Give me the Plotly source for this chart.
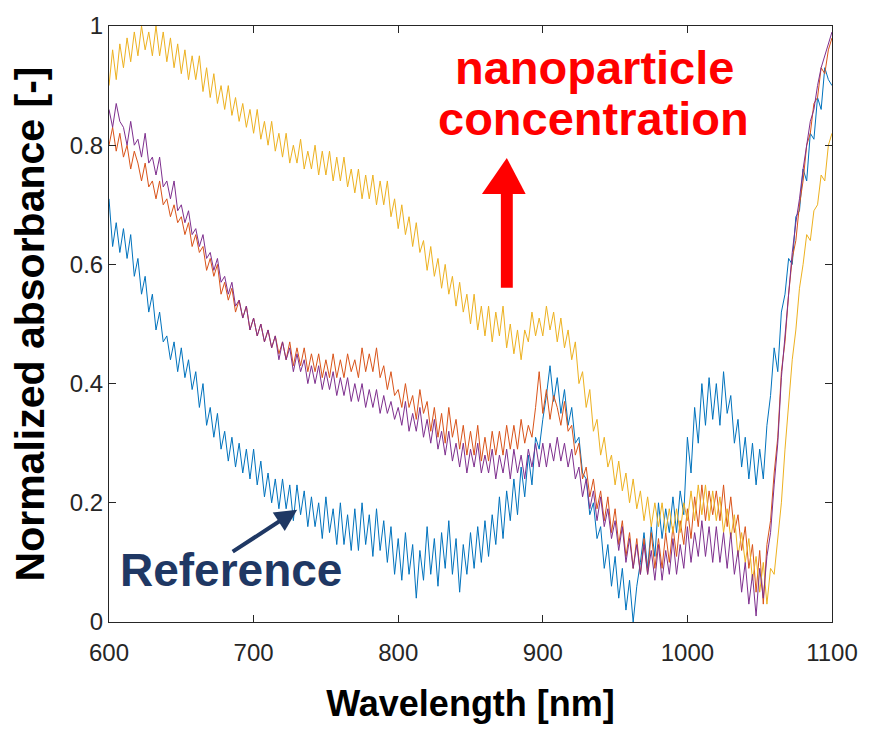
import plotly.graph_objects as go

# Wavelength grid (nm), 2.5 nm spacing from 600 to 1100
wavelength = [600 + 2.5 * i for i in range(201)]

# Normalized absorbance spectra
reference = [
    0.71, 0.63, 0.67, 0.62, 0.66, 0.61, 0.65, 0.58, 0.61, 0.55, 0.58, 0.52,
    0.55, 0.49, 0.52, 0.47, 0.48, 0.44, 0.47, 0.42, 0.46, 0.41, 0.44, 0.39,
    0.42, 0.36, 0.40, 0.33, 0.36, 0.31, 0.35, 0.29, 0.32, 0.27, 0.31, 0.26,
    0.30, 0.25, 0.29, 0.24, 0.29, 0.23, 0.27, 0.21, 0.25, 0.20, 0.24, 0.19,
    0.24, 0.19, 0.23, 0.17, 0.23, 0.18, 0.22, 0.16, 0.21, 0.16, 0.20, 0.14,
    0.21, 0.15, 0.19, 0.13, 0.20, 0.13, 0.18, 0.12, 0.19, 0.12, 0.20, 0.13,
    0.18, 0.11, 0.19, 0.12, 0.17, 0.10, 0.16, 0.08, 0.14, 0.07, 0.15, 0.08,
    0.13, 0.04, 0.12, 0.07, 0.16, 0.08, 0.14, 0.06, 0.15, 0.09, 0.17, 0.08,
    0.14, 0.05, 0.13, 0.08, 0.15, 0.09, 0.16, 0.10, 0.17, 0.11, 0.18, 0.13,
    0.21, 0.14, 0.22, 0.17, 0.24, 0.18, 0.26, 0.21, 0.28, 0.23, 0.31, 0.29,
    0.34, 0.38, 0.43, 0.37, 0.41, 0.35, 0.39, 0.33, 0.36, 0.30, 0.31, 0.25,
    0.24, 0.18, 0.20, 0.14, 0.16, 0.09, 0.13, 0.06, 0.11, 0.04, 0.09, 0.02,
    0.07, 0.00, 0.06, 0.10, 0.15, 0.09, 0.16, 0.11, 0.20, 0.14, 0.19, 0.15,
    0.21, 0.15, 0.22, 0.18, 0.31, 0.25, 0.36, 0.30, 0.40, 0.33, 0.41, 0.34,
    0.40, 0.33, 0.42, 0.35, 0.38, 0.30, 0.34, 0.26, 0.31, 0.24, 0.30, 0.23,
    0.29, 0.24, 0.33, 0.38, 0.46, 0.42, 0.52, 0.55, 0.61, 0.60, 0.68, 0.69,
    0.76, 0.74, 0.82, 0.81, 0.88, 0.86, 0.93, 0.91, 0.90,
]
sample_low = [
    0.80, 0.83, 0.79, 0.82, 0.78, 0.80, 0.76, 0.79, 0.77, 0.74, 0.77, 0.73,
    0.74, 0.71, 0.74, 0.70, 0.71, 0.68, 0.70, 0.67, 0.68, 0.65, 0.67, 0.63,
    0.65, 0.62, 0.63, 0.59, 0.61, 0.58, 0.60, 0.55, 0.57, 0.54, 0.56, 0.52,
    0.54, 0.51, 0.53, 0.49, 0.51, 0.48, 0.50, 0.47, 0.49, 0.46, 0.48, 0.45,
    0.47, 0.44, 0.47, 0.43, 0.46, 0.43, 0.46, 0.42, 0.45, 0.42, 0.45, 0.41,
    0.44, 0.41, 0.45, 0.41, 0.44, 0.41, 0.45, 0.42, 0.44, 0.41, 0.46, 0.42,
    0.45, 0.42, 0.46, 0.41, 0.43, 0.39, 0.42, 0.38, 0.39, 0.36, 0.40, 0.36,
    0.38, 0.34, 0.39, 0.35, 0.37, 0.32, 0.36, 0.31, 0.35, 0.30, 0.36, 0.31,
    0.34, 0.29, 0.33, 0.28, 0.32, 0.28, 0.33, 0.27, 0.31, 0.27, 0.32, 0.28,
    0.32, 0.28, 0.33, 0.29, 0.33, 0.29, 0.34, 0.30, 0.33, 0.31, 0.36, 0.42,
    0.35, 0.39, 0.34, 0.38, 0.36, 0.33, 0.37, 0.32, 0.33, 0.28, 0.30, 0.24,
    0.26, 0.21, 0.24, 0.19, 0.22, 0.17, 0.21, 0.15, 0.19, 0.13, 0.17, 0.11,
    0.15, 0.09, 0.14, 0.08, 0.14, 0.08, 0.15, 0.09, 0.14, 0.09, 0.15, 0.10,
    0.16, 0.11, 0.17, 0.13, 0.19, 0.14, 0.21, 0.16, 0.23, 0.17, 0.22, 0.18,
    0.22, 0.17, 0.23, 0.16, 0.21, 0.15, 0.18, 0.12, 0.16, 0.09, 0.13, 0.05,
    0.12, 0.03, 0.13, 0.17, 0.25, 0.31, 0.42, 0.47, 0.55, 0.61, 0.64, 0.70,
    0.74, 0.80, 0.82, 0.87, 0.88, 0.93, 0.92, 0.96, 0.98,
]
sample_high = [
    0.90, 0.96, 0.91, 0.97, 0.93, 0.98, 0.94, 0.99, 0.95, 1.00, 0.96, 0.99,
    0.95, 1.00, 0.95, 0.99, 0.94, 0.98, 0.93, 0.97, 0.92, 0.96, 0.91, 0.95,
    0.91, 0.95, 0.89, 0.93, 0.88, 0.92, 0.87, 0.90, 0.86, 0.90, 0.85, 0.88,
    0.84, 0.87, 0.83, 0.86, 0.82, 0.86, 0.81, 0.84, 0.80, 0.84, 0.79, 0.82,
    0.78, 0.82, 0.77, 0.80, 0.77, 0.81, 0.76, 0.79, 0.76, 0.80, 0.75, 0.79,
    0.75, 0.79, 0.74, 0.78, 0.74, 0.78, 0.73, 0.76, 0.72, 0.76, 0.71, 0.75,
    0.71, 0.75, 0.70, 0.74, 0.70, 0.74, 0.68, 0.71, 0.66, 0.70, 0.65, 0.68,
    0.63, 0.67, 0.62, 0.64, 0.59, 0.63, 0.58, 0.61, 0.56, 0.60, 0.55, 0.58,
    0.53, 0.57, 0.52, 0.55, 0.50, 0.55, 0.49, 0.53, 0.48, 0.53, 0.47, 0.52,
    0.48, 0.53, 0.46, 0.50, 0.45, 0.49, 0.44, 0.49, 0.47, 0.52, 0.48, 0.51,
    0.48, 0.53, 0.49, 0.52, 0.47, 0.51, 0.46, 0.49, 0.44, 0.47, 0.40, 0.42,
    0.36, 0.39, 0.32, 0.34, 0.28, 0.31, 0.26, 0.28, 0.23, 0.27, 0.22, 0.25,
    0.20, 0.24, 0.19, 0.22, 0.17, 0.21, 0.16, 0.20, 0.16, 0.20, 0.15, 0.19,
    0.15, 0.19, 0.15, 0.20, 0.17, 0.22, 0.17, 0.23, 0.18, 0.23, 0.17, 0.22,
    0.17, 0.21, 0.15, 0.19, 0.14, 0.18, 0.11, 0.15, 0.10, 0.14, 0.07, 0.11,
    0.05, 0.10, 0.03, 0.09, 0.08, 0.14, 0.20, 0.29, 0.36, 0.44, 0.49, 0.56,
    0.60, 0.65, 0.64, 0.69, 0.70, 0.75, 0.74, 0.80, 0.82,
]
sample_mid = [
    0.86, 0.83, 0.87, 0.84, 0.83, 0.80, 0.84, 0.80, 0.81, 0.78, 0.82, 0.77,
    0.78, 0.75, 0.78, 0.73, 0.74, 0.71, 0.74, 0.69, 0.70, 0.67, 0.69, 0.65,
    0.66, 0.63, 0.65, 0.61, 0.62, 0.59, 0.61, 0.57, 0.58, 0.55, 0.57, 0.53,
    0.54, 0.51, 0.53, 0.49, 0.51, 0.48, 0.50, 0.47, 0.49, 0.46, 0.48, 0.44,
    0.47, 0.44, 0.46, 0.42, 0.45, 0.42, 0.44, 0.40, 0.43, 0.40, 0.43, 0.39,
    0.42, 0.39, 0.42, 0.38, 0.41, 0.38, 0.41, 0.37, 0.40, 0.37, 0.40, 0.36,
    0.39, 0.36, 0.39, 0.35, 0.38, 0.35, 0.37, 0.34, 0.36, 0.33, 0.37, 0.32,
    0.35, 0.32, 0.36, 0.31, 0.34, 0.30, 0.34, 0.29, 0.32, 0.28, 0.32, 0.27,
    0.30, 0.26, 0.30, 0.25, 0.29, 0.26, 0.30, 0.25, 0.28, 0.25, 0.29, 0.24,
    0.28, 0.25, 0.29, 0.24, 0.29, 0.25, 0.28, 0.24, 0.29, 0.26, 0.30, 0.26,
    0.30, 0.26, 0.30, 0.27, 0.31, 0.27, 0.30, 0.26, 0.29, 0.24, 0.26, 0.21,
    0.24, 0.19, 0.22, 0.17, 0.21, 0.16, 0.19, 0.14, 0.17, 0.12, 0.16, 0.10,
    0.14, 0.09, 0.13, 0.08, 0.13, 0.08, 0.12, 0.07, 0.13, 0.07, 0.12, 0.08,
    0.14, 0.08, 0.13, 0.09, 0.16, 0.10, 0.15, 0.11, 0.17, 0.11, 0.16, 0.10,
    0.16, 0.10, 0.15, 0.09, 0.15, 0.08, 0.12, 0.05, 0.10, 0.03, 0.08, 0.01,
    0.09, 0.04, 0.11, 0.15, 0.23, 0.30, 0.41, 0.48, 0.56, 0.62, 0.67, 0.71,
    0.76, 0.80, 0.84, 0.86, 0.90, 0.93, 0.95, 0.97, 0.99,
]

x_ticks = [600, 700, 800, 900, 1000, 1100]
y_ticks = [0, 0.2, 0.4, 0.6, 0.8, 1]
y_tick_text = ["0", "0.2", "0.4", "0.6", "0.8", "1"]

# draw order: last trace ends up on top
series = [
    (reference, "#0072BD"),
    (sample_low, "#D95319"),
    (sample_high, "#EDB120"),
    (sample_mid, "#7E2F8E"),
]

fig = go.Figure()
for values, color in series:
    fig.add_trace(go.Scatter(
        x=wavelength, y=values, mode="lines",
        line=dict(color=color, width=1), showlegend=False,
    ))

axis_common = dict(
    showline=True, linecolor="#262626", linewidth=1, mirror="ticks",
    ticks="inside", ticklen=7, tickcolor="#262626", showgrid=False,
    zeroline=False, tickfont=dict(family="Liberation Sans", size=24, color="#262626"),
)

fig.update_layout(
    width=870, height=729,
    margin=dict(l=109, r=34, t=15, b=104),
    plot_bgcolor="white", paper_bgcolor="white",
    xaxis=dict(
        range=[600, 1100], tickvals=x_ticks, ticklabelstandoff=9,
        title=dict(text="<b>Wavelength [nm]</b>", standoff=26,
                   font=dict(family="Liberation Sans", size=36, color="black")),
        **axis_common,
    ),
    yaxis=dict(
        range=[0, 1], tickvals=y_ticks, ticktext=y_tick_text,
        title=dict(text="<b>Normalized absorbance [-]</b>", standoff=12,
                   font=dict(family="Liberation Sans", size=41, color="black")),
        **axis_common,
    ),
)

# "nanoparticle concentration" label with upward arrow
label_font = dict(family="Liberation Sans", size=47, color="#FF0000")
fig.add_annotation(
    xref="paper", yref="paper", x=0.671, y=0.931,
    text="<b>nanoparticle</b>", showarrow=False, font=label_font,
    xanchor="center", yanchor="middle",
)
fig.add_annotation(
    xref="paper", yref="paper", x=0.670, y=0.844,
    text="<b>concentration</b>", showarrow=False, font=label_font,
    xanchor="center", yanchor="middle",
)
fig.add_shape(type="rect", xref="paper", yref="paper",
              x0=0.542, x1=0.5585, y0=0.5607, y1=0.7197,
              fillcolor="#FF0000", line=dict(width=0))
fig.add_shape(type="path", xref="paper", yref="paper",
              path="M 0.5158 0.718 L 0.5763 0.718 L 0.5502 0.7787 Z",
              fillcolor="#FF0000", line=dict(width=0))

# "Reference" label with arrow pointing to the blue curve
fig.add_annotation(
    xref="paper", yref="paper", x=0.169, y=0.087,
    text="<b>Reference</b>", showarrow=False,
    font=dict(family="Liberation Sans", size=46, color="#1F3864"),
    xanchor="center", yanchor="middle",
)
fig.add_annotation(
    xref="paper", yref="paper", x=0.2603, y=0.1885,
    ax=-66, ay=43, text="", showarrow=True,
    arrowhead=2, arrowsize=1.1, arrowwidth=4, arrowcolor="#1F3864",
)

fig.write_html("out.html")
